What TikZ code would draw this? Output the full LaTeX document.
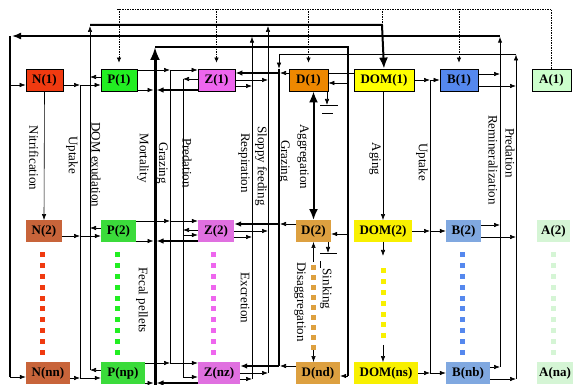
\documentclass[tikz,border=0pt]{standalone}
\usepackage{fontspec}
\setmainfont{Liberation Serif}
\usetikzlibrary{arrows.meta}
\definecolor{rougeN}{HTML}{F03A10}
\definecolor{brique}{HTML}{C8643A}
\definecolor{vertP}{HTML}{22EE22}
\definecolor{vertP2}{HTML}{3BDB3B}
\definecolor{roseZ}{HTML}{EE66EE}
\definecolor{roseZ2}{HTML}{E070E0}
\definecolor{orD}{HTML}{EE8800}
\definecolor{orD2}{HTML}{DDA040}
\definecolor{jauneO}{HTML}{FFFF00}
\definecolor{jauneO2}{HTML}{F8F000}
\definecolor{bleuB}{HTML}{5588EE}
\definecolor{bleuB2}{HTML}{80A8E0}
\definecolor{vertA}{HTML}{CCFFCC}
\definecolor{vertA2}{HTML}{D5F5D5}
\begin{document}
\begin{tikzpicture}[
    x=1pt, y=-1pt,
    % boites des compartiments
    boite/.style={draw, line width=0.8pt, minimum height=22pt, inner sep=0pt,
        font=\fontsize{13}{15}\selectfont\bfseries},
    couche/.style={minimum height=21.5pt, inner sep=0pt,
        font=\fontsize{13}{15}\selectfont\bfseries},
    proc/.style={rotate=-90, inner sep=0pt, font=\fontsize{13}{15}\selectfont},
    % fleches et lignes
    fl/.style={-{Latex[length=6pt,width=4.5pt]}, line width=0.6pt},
    flz/.style={-{Latex[length=7pt,width=5.5pt]}, line width=1.6pt},
    flg/.style={-{Latex[length=11pt,width=9pt]}, line width=2pt},
    fltg/.style={-{Latex[length=13pt,width=10pt]}, line width=3pt},
    bus/.style={line width=0.6pt},
    pointil/.style={dash pattern=on 1.5pt off 1pt, line width=0.6pt}
]
\useasboundingbox (0,0) rectangle (574,385);
% Couche 1
\node[boite, fill=rougeN, minimum width=37pt] (N1) at (44.5,80) {N(1)};
\node[boite, fill=vertP, minimum width=36pt] (P1) at (119,80) {P(1)};
\node[boite, fill=roseZ, minimum width=37pt] (Z1) at (216.5,80) {Z(1)};
\node[boite, fill=orD, minimum width=39pt] (D1) at (308.5,80) {D(1)};
\node[boite, fill=jauneO, minimum width=60pt] (DOM1) at (384,80) {DOM(1)};
\node[boite, fill=bleuB, minimum width=38pt] (B1) at (459,80) {B(1)};
\node[boite, fill=vertA, minimum width=39pt] (A1) at (551.5,80) {A(1)};
% Couche 2
\node[couche, fill=brique, minimum width=36pt] (N2) at (44,231) {N(2)};
\node[couche, fill=vertP2, minimum width=35pt] (P2) at (118.5,231) {P(2)};
\node[couche, fill=roseZ2, minimum width=36pt] (Z2) at (216,231) {Z(2)};
\node[couche, fill=orD2, minimum width=35pt] (D2) at (313.5,231) {D(2)};
\node[couche, fill=jauneO2, minimum width=58pt] (DOM2) at (383,231) {DOM(2)};
\node[couche, fill=bleuB2, minimum width=35pt] (B2) at (463.5,231) {B(2)};
\node[couche, fill=vertA2, minimum width=33pt] (A2) at (553.5,231) {A(2)};
% Derniere couche
\node[couche, fill=brique, minimum width=44pt] (Nnn) at (48,373) {N(nn)};
\node[couche, fill=vertP2, minimum width=44pt] (Pnp) at (123,373) {P(np)};
\node[couche, fill=roseZ2, minimum width=42pt] (Znz) at (219,373) {Z(nz)};
\node[couche, fill=orD2, minimum width=44pt] (Dnd) at (318,373) {D(nd)};
\node[couche, fill=jauneO2, minimum width=64pt] (DOMns) at (386,373) {DOM(ns)};
\node[couche, fill=bleuB2, minimum width=44pt] (Bnb) at (468,373) {B(nb)};
\node[couche, fill=vertA2, minimum width=36pt] (Ana) at (555,373) {A(na)};

% Points entre les couches
\foreach \xx/\cc in {42/rougeN, 117/vertP, 213/roseZ, 462/bleuB, 553/vertA2}
    \foreach \k in {0,...,9}
        \fill[\cc] (\xx-2.5,255+10.8*\k-2.5) rectangle ++(5,5);
\foreach \k in {0,...,8}
    \fill[orD2] (311,268+9.9*\k-2.5) rectangle ++(5,5);
\foreach \k in {0,...,6}
    \fill[jauneO2] (380.5,271+10.8*\k-2.5) rectangle ++(5,5);

% Lignes collectrices
\coordinate (rgH) at (10,36);
\coordinate (rgB) at (10,377);
\coordinate (rmH) at (500,36);
\coordinate (rmB) at (500,367);
\coordinate (upH) at (80,85);
\coordinate (upB) at (80,378);
\coordinate (exH) at (90,25);
\coordinate (exB) at (90,370);
\coordinate (domH) at (382,25);
\coordinate (moH) at (155,47);
\coordinate (moB) at (155,385);
\coordinate (deH) at (348,47);
\coordinate (deB) at (348,376);
\coordinate (gzH) at (170,70);
\coordinate (gzB) at (170,363);
\coordinate (pzH) at (183,79);
\coordinate (pzB) at (183,377);
\coordinate (reH) at (252,36);
\coordinate (reB) at (252,379);
\coordinate (slH) at (268,25);
\coordinate (slB) at (268,373);
\coordinate (grH) at (279,54);
\coordinate (grB) at (279,366);
\coordinate (pbH) at (516,54);
\coordinate (pbB) at (516,379);
\coordinate (ubH) at (430,80);
\coordinate (ubB) at (430,373);
\coordinate (ptG) at (117,9);

\draw[line width=1.5pt] (rgH) -- (rgB);
\draw[line width=1.5pt, {Latex[length=9pt,width=7pt]}-] ([xshift=2pt]rgH) -- (rmH);
\draw[fl, line width=1pt, shorten >=0.7pt] (rmB) -- (rmH);
\draw[fl, shorten >=0.7pt] (reB) -- (reH);
\draw[fl, shorten >=1pt] (slB) -- (slH);
\draw[fl, shorten >=1pt] (exB) -- (exH);
\draw[flg] (exH) -- (domH) -- (DOM1.north);
\draw[fl, shorten >=0.5pt] (pbB) -- (pbH);
\draw[line width=0.8pt] (pbH) -- (grH);
\draw[fl] (grH) -- (grH |- D1.north);
\draw[line width=1.2pt] (grH |- D1.north) -- (grB);
\draw[fltg] (moB) -- (moH);
\draw[line width=2.5pt] (moH) -- (deH) -- (deB);
\draw[bus] (gzH) -- (gzB);
\draw[bus] (pzH) -- (pzB);
\draw[bus] (upH) -- (upB);
\draw[bus] (ubH) -- (ubB);

% Flux repetes sur les couches
\foreach \n/\p/\z/\d/\o/\b in {N1/P1/Z1/D1/DOM1/B1, N2/P2/Z2/D2/DOM2/B2,
        Nnn/Pnp/Znz/Dnd/DOMns/Bnb} {
    \draw[fl] ([yshift=-5pt]\n.east) -- ([yshift=-5pt]\n.east -| upH);
    \draw[fl] ([yshift=-5pt]\n.east -| upH) -- ([yshift=-5pt]\p.west);
    \draw[fl] ([yshift=3pt]\p.west) -- ([yshift=3pt]\p.west -| exH);
    \draw[fl] ([yshift=10pt]\p.east) -- ([yshift=10pt]\p.east -| gzH);
    \draw[fl] ([yshift=10pt]\p.east -| gzH) -- ([yshift=10pt]\z.west);
    \draw[fl, shorten >=1.5pt] ([yshift=-10pt]\p.east) -- ([yshift=-10pt]\p.east -| moH);
    \draw[flz, shorten >=1.5pt] ([yshift=-10pt]\z.west) -- ([yshift=-10pt]\z.west -| moH);
    \draw[flz] ([yshift=7pt]\z.east -| grH) -- ([yshift=7pt]\z.east);
    \draw[fl, shorten >=1pt] ([yshift=7pt]\d.west) -- ([yshift=7pt]\d.west -| grH);
    \draw[fl] (\z.east) -- (\z.east -| slH);
    \draw[fl] ([yshift=-6pt]\z.east) -- ([yshift=-6pt]\z.east -| reH);
    \draw[fl] ([yshift=-3pt]\d.east -| deH) -- ([yshift=-3pt]\d.east);
    \draw[fl] (\o.east) -- (\o.east -| ubH);
    \draw[fl] (\o.east -| ubH) -- (\b.west);
    \draw[fl] ([yshift=6pt]\b.east) -- ([yshift=6pt]\b.east -| rmH);
    \draw[fl] ([yshift=-6pt]\b.east) -- ([yshift=-6pt]\b.east -| pbH);
}
% Predation entre zooplanctons
\foreach \z in {Z1, Z2}
    \draw[fl] ([yshift=1pt]\z.west) -- ([yshift=1pt]\z.west -| pzH);
\foreach \z in {Z2, Znz}
    \draw[fl] ([yshift=-4pt]\z.west -| pzH) -- ([yshift=-4pt]\z.west);
% Nutriments
\draw[fl] ([yshift=-5pt]N1.west -| rgH) -- ([yshift=-5pt]N1.west);
\draw[fl] ([yshift=-4pt]Nnn.west -| rgH) -- ([yshift=-4pt]Nnn.west);
\draw[fl] (N1.south) -- (N2.north);
% Detritus
\draw[{Latex[length=11pt,width=9pt]}-{Latex[length=11pt,width=9pt]}, line width=2pt]
    (D2.north |- D1.south) -- (D2.north);
\draw[bus] ([yshift=7pt]D1.east) -- ([yshift=7pt]DOM1.west);
\coordinate (sk1) at (327,105);
\draw[fl] (D1.south -| sk1) -- (sk1);
\draw[bus] ([xshift=-7pt]sk1) -- ([xshift=11pt]sk1);
\draw[bus] ([xshift=-5pt,yshift=-8pt]sk1) -- ([xshift=6pt,yshift=-8pt]sk1);
\coordinate (sk2) at (328,253);
\draw[fl] (D2.south -| sk2) -- (sk2);
\draw[bus] ([xshift=-8pt]sk2) -- ([xshift=9pt]sk2);
\draw[bus] ([xshift=-8pt,yshift=-8pt]sk2) -- ([xshift=-8pt,yshift=-15pt]sk2);
\coordinate (dgH) at (313.5,262);
\coordinate (dgB) at (313.5,350);
\draw[fl] (dgH) -- (D2.south);
\draw[fl] (dgB) -- (dgB |- Dnd.north);
% Matiere organique dissoute
\draw[fl] (DOM2.north |- DOM1.south) -- (DOM2.north);
\coordinate (agH) at (383,256);
\coordinate (agB) at (383,345);
\draw[fl] (DOM2.south) -- (agH);
\draw[fl] (agB) -- (agB |- DOMns.north);
% Pointilles du haut
\draw[pointil] (A1.north) -- (A1.north |- ptG) -- (ptG);
\foreach \m in {P1, Z1, D1, B1}
    \draw[pointil, -{Latex[length=5pt,width=4.5pt]}, shorten >=6pt] (\m.north |- ptG) -- (\m.north);
\draw[pointil] (domH |- ptG) -- (domH);

% Etiquettes
\node[proc] (lNit) at (34,158) {Nitrification};
\node[proc] (lUpN) at (72,155) {Uptake};
\node[proc] (lExu) at (96,165) {DOM exudation};
\node[proc] (lMor) at (143,158) {Mortality};
\node[proc] (lGrP) at (162,163) {Grazing};
\node[proc] (lPrZ) at (187,163) {Predation};
\node[proc] (lRes) at (244,163) {Respiration};
\node[proc] (lSlo) at (261,166) {Sloppy feeding};
\node[proc] (lGrD) at (284,161) {Grazing};
\node[proc] (lAgg) at (303,157) {Aggregation};
\node[proc] (lAgi) at (375,159) {Aging};
\node[proc] (lUpB) at (422,162) {Uptake};
\node[proc] (lRem) at (493,160) {Remineralization};
\node[proc] (lPrB) at (510,153) {Predation};
\node[proc] (lFec) at (142,300) {Fecal pellets};
\node[proc] (lExc) at (245,298) {Excretion};
\node[proc] (lDis) at (300,302) {Disaggregation};
\node[proc] (lSin) at (326,289) {Sinking};
\end{tikzpicture}
\end{document}
